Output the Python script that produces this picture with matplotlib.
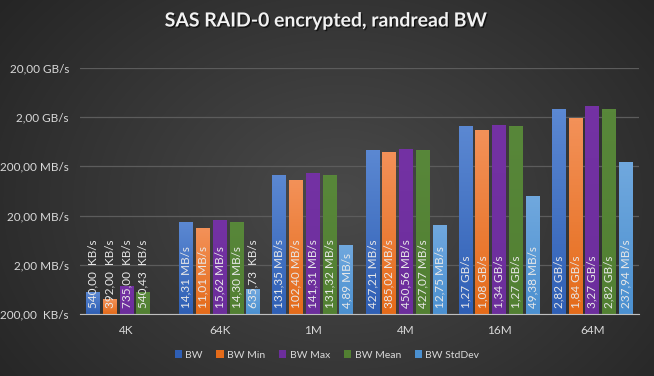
import numpy as np
import matplotlib
matplotlib.use("Agg")
import matplotlib.pyplot as plt
import matplotlib.patheffects as pe
from matplotlib.colors import LinearSegmentedColormap

# values in MB/s
categories = ["4K", "64K", "1M", "4M", "16M", "64M"]
series_names = ["BW", "BW Min", "BW Max", "BW Mean", "BW StdDev"]
bw = [0.540, 14.31, 131.35, 427.21, 1270, 2820]
bw_min = [0.392, 11.01, 102.40, 385.02, 1080, 1840]
bw_max = [0.735, 15.62, 141.31, 450.56, 1340, 3270]
bw_mean = [0.54043, 14.30, 131.32, 427.07, 1270, 2820]
bw_std = [np.nan, 0.63573, 4.89, 12.75, 49.38, 237.94]  # 4K stddev falls below the axis
y_ticks = [0.2, 2, 20, 200, 2000, 20000]

# (top, bottom) gradient colours per series
grads = [("#5b88d2", "#2f5fb5"),
         ("#f39158", "#e46b1a"),
         ("#7432a4", "#6c2e9c"),
         ("#58873a", "#528032"),
         ("#70a8de", "#4b90d0")]

plt.rcParams['font.family'] = ['Lato', 'DejaVu Sans']


def fmt_bw(v):
    if v >= 1000:
        s = f"{v / 1000:.2f} GB/s"
    elif v >= 1:
        s = f"{v:.2f} MB/s"
    else:
        s = f"{v * 1000:.2f}  KB/s"
    return s.replace(".", ",")


fig = plt.figure(figsize=(6.54, 3.76), dpi=100)

# radial dark background
bg = fig.add_axes([0, 0, 1, 1], zorder=-10)
yy, xx = np.mgrid[0:376, 0:654]
r = np.sqrt(((xx - 340) / 430.0) ** 2 + ((yy - 200) / 330.0) ** 2)
lvl = (0x4a - (0x4a - 0x25) * np.clip(r, 0, 1)) / 255.0
bg.imshow(np.dstack([lvl, lvl, lvl]), aspect='auto', extent=(0, 1, 0, 1))
bg.axis('off')

ax = fig.add_axes([80 / 654, 62 / 376, 559 / 654, 246 / 376])
ax.patch.set_alpha(0)
ax.set_yscale('log')
ax.set_ylim(0.2, 20000)
ax.set_xlim(-0.5, len(categories) - 0.5)

all_series = [bw, bw_min, bw_max, bw_mean, bw_std]
x = np.arange(len(categories))
pitch, width = 0.18, 0.15
to_axes = ax.transData + ax.transAxes.inverted()

for j, vals in enumerate(all_series):
    pos = x + (j - 2) * pitch
    bars = ax.bar(pos, vals, width, color=grads[j][1], zorder=3, label=series_names[j])
    cmap = LinearSegmentedColormap.from_list("g%d" % j, [grads[j][1], grads[j][0]])
    for p, v, b in zip(pos, vals, bars):
        if np.isnan(v):
            continue
        (ax0, ay0) = to_axes.transform((p - width / 2, 0.2))
        (ax1, ay1) = to_axes.transform((p + width / 2, v))
        ax.imshow(np.linspace(0, 1, 64).reshape(-1, 1), cmap=cmap, origin='lower',
                  extent=(ax0, ax1, ay0, ay1), transform=ax.transAxes,
                  aspect='auto', zorder=3.5)
        ax.annotate(fmt_bw(v), (p, 0.2), xytext=(0, 6), textcoords='offset pixels',
                    rotation=90, ha='center', va='bottom', fontsize=8.5,
                    color='#e8e8e8', zorder=5)

ax.set_xlim(-0.5, len(categories) - 0.5)
ax.set_ylim(0.2, 20000)
ax.set_xticks(x)
ax.set_xticklabels(categories)
ax.set_yticks(y_ticks)
ax.set_yticklabels([fmt_bw(t) for t in y_ticks])
ax.yaxis.set_minor_locator(matplotlib.ticker.NullLocator())
ax.tick_params(axis='both', length=0, labelsize=8.5, colors='#d9d9d9')
ax.tick_params(axis='y', pad=8)
ax.tick_params(axis='x', pad=8)
ax.grid(axis='y', color='#5c5c5c', linewidth=0.9, zorder=0)
for s in ['left', 'right', 'top']:
    ax.spines[s].set_visible(False)
ax.spines['bottom'].set_color('#bfbfbf')
ax.spines['bottom'].set_zorder(6)

fig.text(0.5, 1 - 21 / 376, "SAS RAID-0 encrypted, randread BW", ha='center', va='center',
         fontsize=14, fontweight='bold', color='#f2f2f2',
         path_effects=[pe.withSimplePatchShadow(offset=(1, -1), shadow_rgbFace='black', alpha=0.6)])

handles, labels = ax.get_legend_handles_labels()
leg = fig.legend(handles, labels, loc='center', bbox_to_anchor=(0.5, 1 - 355 / 376), ncol=5,
                 frameon=False, fontsize=7.5, handlelength=0.7, handleheight=0.7,
                 handletextpad=0.35, columnspacing=1.3)
for t in leg.get_texts():
    t.set_color('#d9d9d9')

fig.savefig("out.png", dpi=100)
